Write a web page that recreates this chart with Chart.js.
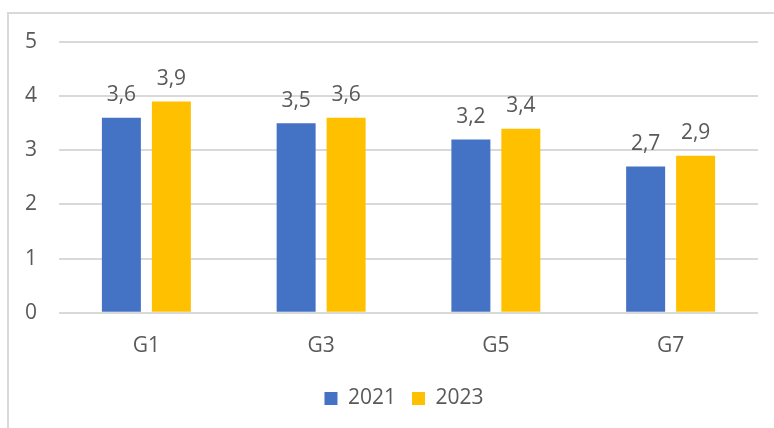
<!DOCTYPE html>
<html>
<head>
<meta charset="utf-8">
<script src="https://cdn.jsdelivr.net/npm/chart.js@4"></script>
<style>
  html, body { margin: 0; padding: 0; background: #fff; }
  #wrap { position: relative; width: 774px; height: 428px; overflow: hidden; }
  #frame { position: absolute; left: 7px; top: 12px; width: 800px; height: 450px;
           border-left: 2px solid #d9d9d9; border-top: 2px solid #d9d9d9; box-sizing: border-box; }
  canvas { position: absolute; left: 0; top: 0; }
</style>
</head>
<body>
<div id="wrap">
  <div id="frame"></div>
  <canvas id="chart" width="774" height="428"></canvas>
</div>
<script>
const categories = ['G1', 'G3', 'G5', 'G7'];
const seriesNames = ['2021', '2023'];
const values2021 = [3.6, 3.5, 3.2, 2.7];
const values2023 = [3.9, 3.6, 3.4, 2.9];
const yTicks = [0, 1, 2, 3, 4, 5];

const textColor = '#595959';
const fontFamily = '"Open Sans", sans-serif';

// draws the value above each bar, with a decimal comma
const barLabels = {
  id: 'barLabels',
  afterDatasetsDraw(chart) {
    const ctx = chart.ctx;
    ctx.save();
    ctx.font = '21px ' + fontFamily;
    ctx.fillStyle = textColor;
    ctx.textAlign = 'center';
    ctx.textBaseline = 'bottom';
    chart.data.datasets.forEach((ds, i) => {
      chart.getDatasetMeta(i).data.forEach((bar, j) => {
        const txt = ds.data[j].toFixed(1).replace('.', ',');
        ctx.fillText(txt, bar.x, bar.y - 12);
      });
    });
    ctx.restore();
  }
};

// legend sits a bit right of the canvas centre, under the plot
const legendShift = {
  id: 'legendShift',
  afterLayout(chart) {
    chart.legend.left += 20;
    chart.legend.right += 20;
  }
};

new Chart(document.getElementById('chart'), {
  type: 'bar',
  data: {
    labels: categories,
    datasets: [
      { label: seriesNames[0], data: values2021, backgroundColor: '#4472C4',
        barPercentage: 0.78, categoryPercentage: 0.572 },
      { label: seriesNames[1], data: values2023, backgroundColor: '#FFC000',
        barPercentage: 0.78, categoryPercentage: 0.572 }
    ]
  },
  options: {
    responsive: false,
    animation: false,
    layout: { padding: { top: 42, right: 16, left: 10, bottom: 9 } },
    plugins: {
      legend: {
        position: 'bottom',
        labels: {
          boxWidth: 13, boxHeight: 13, padding: 16,
          color: textColor, font: { family: fontFamily, size: 21 }
        }
      },
      tooltip: { enabled: false }
    },
    scales: {
      x: {
        grid: { display: false },
        border: { display: false },
        ticks: { color: textColor, font: { family: fontFamily, size: 21 }, padding: 13 }
      },
      y: {
        min: 0, max: 5,
        afterBuildTicks(axis) { axis.ticks = yTicks.map(v => ({ value: v })); },
        afterFit(axis) { axis.width = 49; },
        grid: { color: '#d9d9d9', lineWidth: 2, drawTicks: false },
        border: { display: false },
        ticks: { color: textColor, font: { family: fontFamily, size: 21 }, padding: 22 }
      }
    }
  },
  plugins: [barLabels, legendShift]
});
</script>
</body>
</html>
